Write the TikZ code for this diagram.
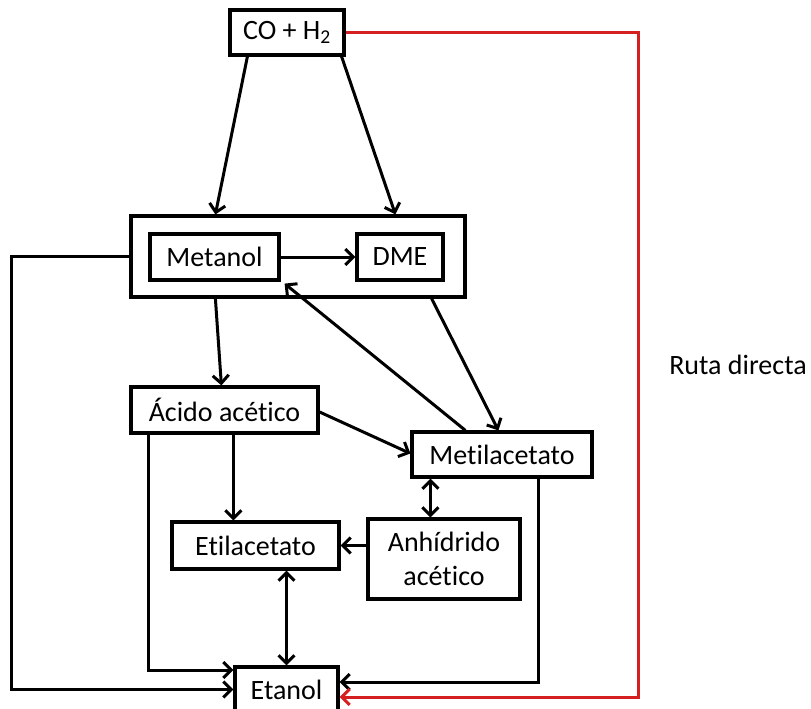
\documentclass[tikz,border=0pt]{standalone}
\usepackage{fontspec}
\setmainfont{Carlito}[Ligatures=NoCommon]
\usetikzlibrary{arrows.meta}
\definecolor{rojo}{RGB}{212,32,32}

\begin{document}
\begin{tikzpicture}[x=1pt,y=-1pt,
    caja/.style={draw,line width=3.2pt,inner sep=0pt,minimum height=46pt,font=\fontsize{28}{34}\selectfont},
    flecha/.style={line width=3pt,-{Straight Barb[length=8pt,width=16pt]}},
    doble/.style={line width=3pt,{Straight Barb[length=8pt,width=16pt]}-{Straight Barb[length=8pt,width=16pt]}}]
    \useasboundingbox (0,0) rectangle (811,709);
    \node[caja,minimum width=114pt,minimum height=45pt] (co) at (287,32.5) {CO + H\textsubscript{2}};
    \node[caja,minimum width=334pt,minimum height=81pt] (grupo) at (298,256.5) {};
    \node[caja,minimum width=129pt] (metanol) at (214.5,257) {Metanol};
    \node[caja,minimum width=86pt] (dme) at (400,257) {DME};
    \node[caja,minimum width=187pt] (acido) at (224.5,410) {Ácido acético};
    \node[caja,minimum width=180pt,minimum height=45pt] (metil) at (502,454.5) {Metilacetato};
    \node[caja,minimum width=167pt,minimum height=47pt] (etil) at (255.5,545.5) {Etilacetato};
    \node[caja,minimum width=152pt,minimum height=80pt,align=center] (anh) at (444,559) {Anhídrido\\acético};
    \node[caja,minimum width=103pt,minimum height=45pt] (etanol) at (286.5,689.5) {Etanol};
    \node[font=\fontsize{28}{34}\selectfont] (ruta) at (738,365) {Ruta directa};
    \draw[flecha] ([xshift=19pt]co.south west) -- ([xshift=86pt]grupo.north west);
    \draw[flecha] ([xshift=-4pt]co.south east) -- ([xshift=266pt]grupo.north west);
    \draw[flecha] (metanol.east) -- (dme.west);
    \draw[flecha] (grupo.west) -- ++(-118,0) |- (etanol.west);
    \draw[flecha] ([xshift=86pt]grupo.south west) -- ([xshift=92pt]acido.north west);
    \draw[flecha] ([xshift=-35pt]grupo.south east) -- ([xshift=88pt]metil.north west);
    \draw[flecha] ([xshift=55pt]metil.north west) -- ([xshift=4pt,yshift=-2pt]metanol.south east);
    \draw[flecha] ([yshift=-2pt]acido.east) -- ([yshift=1pt]metil.west);
    \draw[flecha] ([xshift=104pt]acido.south west) -- ([xshift=63pt]etil.north west);
    \draw[flecha] ([xshift=19pt]acido.south west) |- ([yshift=19.5pt]etanol.west);
    \draw[doble] ([xshift=20pt]metil.south west) -- ([xshift=64pt]anh.north west);
    \draw[flecha] (anh.west |- etil.east) -- (etil.east);
    \draw[doble] (etanol.north |- etil.south) -- (etanol.north);
    \draw[flecha] ([xshift=-55pt]metil.south east) |- ([yshift=7.5pt]etanol.east);
    \draw[flecha,rojo] (co.east) -- ++(293,0) |- ([yshift=-7.5pt]etanol.east);
\end{tikzpicture}
\end{document}
